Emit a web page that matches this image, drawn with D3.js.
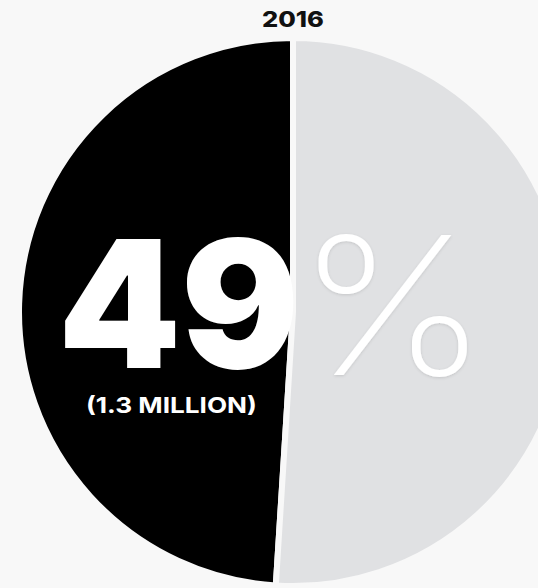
<!DOCTYPE html>
<html>
<head>
<meta charset="utf-8">
<script src="https://cdn.jsdelivr.net/npm/d3@7"></script>
<style>
  html, body { margin: 0; padding: 0; background: #f8f8f8; }
  svg { display: block; }
</style>
</head>
<body>
<svg id="chart" width="538" height="588"></svg>
<script>
// Chart values
const title = "2016";
const categories = ["Share", "Rest"];
const shares = [49, 51];
const countLabel = "(1.3 MILLION)";
const sliceColors = ["#000000", "#e0e1e3"];

const width = 538, height = 588;
const cx = 293, cy = 312, radius = 274;
const bg = "#f8f8f8";
const family = "Inter, Lato, sans-serif";

const svg = d3.select("#chart");

svg.append("rect").attr("width", width).attr("height", height).attr("fill", bg);

// Faint shadow under the thin percent sign
const defs = svg.append("defs");
const f = defs.append("filter").attr("id", "soft")
  .attr("x", "-20%").attr("y", "-20%").attr("width", "140%").attr("height", "140%");
f.append("feDropShadow").attr("dx", 0).attr("dy", 1).attr("stdDeviation", 1.5)
  .attr("flood-color", "#000").attr("flood-opacity", 0.12);

const color = d3.scaleOrdinal().domain(categories).range(sliceColors);

// Slices run counter-clockwise from 12 o'clock
const pie = d3.pie().sort(null).startAngle(0).endAngle(-2 * Math.PI);
const arcs = pie(shares).map((a, i) => Object.assign(a, { key: categories[i] }));

const arc = d3.arc().innerRadius(0).outerRadius(radius);

const g = svg.append("g").attr("transform", `translate(${cx},${cy})`);

g.selectAll("path.slice")
  .data(arcs)
  .join("path")
  .attr("class", "slice")
  .attr("d", arc)
  .attr("fill", d => color(d.key))
  .attr("stroke", bg)
  .attr("stroke-width", 6)
  .attr("stroke-linejoin", "miter");

// Place a text so that its inked glyphs fill the given box
const ctx = document.createElement("canvas").getContext("2d");
function fitText(str, weight, box, fill, extra) {
  ctx.font = `${weight} 100px ${family}`;
  const m = ctx.measureText(str);
  const inkH = m.actualBoundingBoxAscent + m.actualBoundingBoxDescent;
  const inkW = m.actualBoundingBoxLeft + m.actualBoundingBoxRight;
  const s = (box.y1 - box.y0) / inkH;
  const sx = (box.x1 - box.x0) / (inkW * s);
  const tx = box.x0 + m.actualBoundingBoxLeft * s * sx;
  const ty = box.y1 - m.actualBoundingBoxDescent * s;
  const t = svg.append("text")
    .attr("transform", `translate(${tx},${ty}) scale(${sx},1)`)
    .attr("x", 0).attr("y", 0)
    .attr("font-family", family)
    .attr("font-weight", weight)
    .attr("font-size", 100 * s)
    .attr("fill", fill)
    .text(str);
  if (extra) extra(t);
  return t;
}

// Title
fitText(title, 800, { x0: 263, x1: 323, y0: 11, y1: 27 }, "#111");

// Big number
fitText(String(shares[0]), 900, { x0: 65, x1: 295, y0: 237, y1: 370 }, "#ffffff");

// Thin percent sign
fitText("%", 200, { x0: 318, x1: 467, y0: 233, y1: 377 }, "#ffffff",
  t => t.attr("filter", "url(#soft)"));

// Count label
fitText(countLabel, 700, { x0: 88, x1: 255, y0: 395, y1: 415 }, "#ffffff");
</script>
</body>
</html>
